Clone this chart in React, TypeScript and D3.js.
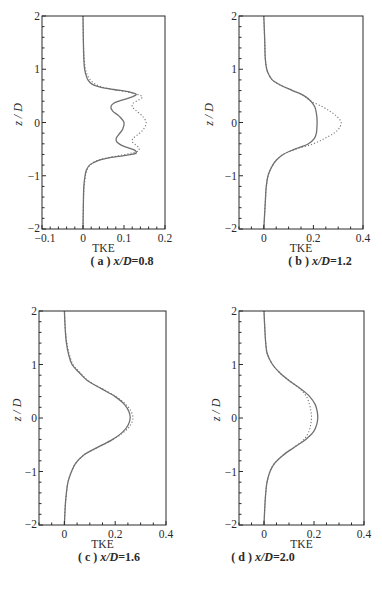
import * as d3 from 'd3';

// z/D sample positions (top to bottom)
const zA = [2, 1.5, 1.2, 1.0, 0.9, 0.8, 0.72, 0.67, 0.62, 0.57, 0.53, 0.48, 0.42, 0.36, 0.3, 0.22, 0.12, 0, -0.12, -0.22, -0.3, -0.36, -0.42, -0.48, -0.53, -0.57, -0.62, -0.67, -0.72, -0.8, -0.9, -1.0, -1.2, -1.5, -2];
const solidA = [0, 0.001, 0.002, 0.004, 0.007, 0.012, 0.022, 0.04, 0.075, 0.115, 0.13, 0.12, 0.095, 0.075, 0.068, 0.072, 0.088, 0.1, 0.097, 0.088, 0.081, 0.082, 0.092, 0.112, 0.128, 0.13, 0.1, 0.06, 0.035, 0.016, 0.008, 0.005, 0.002, 0.001, 0];
const dottedA = [0, 0.001, 0.003, 0.006, 0.01, 0.018, 0.03, 0.045, 0.075, 0.11, 0.132, 0.145, 0.135, 0.122, 0.12, 0.13, 0.145, 0.154, 0.148, 0.135, 0.122, 0.12, 0.128, 0.137, 0.135, 0.12, 0.09, 0.055, 0.033, 0.017, 0.009, 0.006, 0.003, 0.001, 0];

const zB = [2, 1.5, 1.2, 1.0, 0.9, 0.8, 0.7, 0.6, 0.5, 0.4, 0.3, 0.2, 0.1, 0, -0.1, -0.2, -0.3, -0.4, -0.5, -0.6, -0.7, -0.8, -0.9, -1.0, -1.2, -1.5, -2];
const solidB = [0, 0.004, 0.006, 0.012, 0.02, 0.034, 0.068, 0.116, 0.163, 0.19, 0.205, 0.211, 0.214, 0.215, 0.214, 0.212, 0.204, 0.18, 0.125, 0.078, 0.052, 0.036, 0.025, 0.017, 0.01, 0.006, 0];
const dottedB = [0, 0.004, 0.006, 0.012, 0.02, 0.034, 0.068, 0.116, 0.163, 0.19, 0.235, 0.27, 0.298, 0.312, 0.305, 0.283, 0.245, 0.2, 0.13, 0.078, 0.052, 0.036, 0.025, 0.017, 0.01, 0.006, 0];

const zC = [2, 1.6, 1.4, 1.2, 1.0, 0.85, 0.7, 0.55, 0.4, 0.25, 0.12, 0, -0.12, -0.25, -0.4, -0.55, -0.7, -0.85, -1.0, -1.2, -1.4, -1.6, -2];
const solidC = [0, 0.004, 0.008, 0.016, 0.03, 0.058, 0.09, 0.145, 0.2, 0.237, 0.254, 0.259, 0.252, 0.232, 0.19, 0.13, 0.074, 0.044, 0.028, 0.014, 0.008, 0.004, 0];
const dottedC = [0, 0.005, 0.01, 0.019, 0.034, 0.062, 0.093, 0.147, 0.203, 0.243, 0.263, 0.27, 0.262, 0.238, 0.192, 0.13, 0.074, 0.044, 0.028, 0.014, 0.008, 0.004, 0];

const zD = zC;
const solidD = [0, 0.004, 0.007, 0.013, 0.034, 0.062, 0.1, 0.145, 0.183, 0.205, 0.213, 0.215, 0.211, 0.199, 0.167, 0.12, 0.075, 0.042, 0.024, 0.012, 0.007, 0.004, 0];
const dottedD = [0, 0.004, 0.007, 0.013, 0.034, 0.062, 0.1, 0.143, 0.17, 0.182, 0.188, 0.19, 0.187, 0.18, 0.16, 0.12, 0.075, 0.042, 0.024, 0.012, 0.007, 0.004, 0];

const yTicks = [-2, -1, 0, 1, 2];
const xTicksA = [-0.1, 0, 0.1, 0.2];
const xTicksWide = [0, 0.2, 0.4];

const serif = '"Liberation Serif", "DejaVu Serif", serif';
const ink = '#2a2a2a';

type PanelProps = {
  left: number;
  top: number;
  width: number;
  height: number;
  xDomain: [number, number];
  xTicks: number[];
  xMinorStep: number;
  z: number[];
  solid: number[];
  dotted: number[];
  letter: string;
  value: string;
  captionX: number;
  labelDx: number;
};

const fmtTick = (v: number) => (v < 0 ? '\u2212' : '') + String(Math.abs(v));

const Panel = (p: PanelProps) => {
  const x = d3.scaleLinear().domain(p.xDomain).range([p.left, p.left + p.width]);
  const y = d3.scaleLinear().domain([-2, 2]).range([p.top + p.height, p.top]);
  const bottom = p.top + p.height;

  const line = d3
    .line<number>()
    .x((d) => x(d))
    .y((_, i) => y(p.z[i]))
    .curve(d3.curveCatmullRom.alpha(0.5));

  const yMinor = d3.range(-2, 2.0001, 0.2).filter((v) => Math.abs(v - Math.round(v)) > 1e-6);
  const n = Math.round((p.xDomain[1] - p.xDomain[0]) / p.xMinorStep);
  const xMinor = d3
    .range(0, n + 1)
    .map((i) => p.xDomain[0] + i * p.xMinorStep)
    .filter((v) => !p.xTicks.some((t) => Math.abs(t - v) < 1e-6));

  return (
    <g>
      <path d={line(p.dotted) ?? ''} fill="none" stroke="#777" strokeWidth={1.1} strokeDasharray="1.2,2" />
      <path d={line(p.solid) ?? ''} fill="none" stroke="#707070" strokeWidth={1.3} />
      <rect x={p.left} y={p.top} width={p.width} height={p.height} fill="none" stroke={ink} strokeWidth={1} />

      {yMinor.map((v) => (
        <line key={'ym' + v} x1={p.left} x2={p.left + 2.5} y1={y(v)} y2={y(v)} stroke={ink} strokeWidth={1} />
      ))}
      {yTicks.map((v) => (
        <g key={'y' + v}>
          <line x1={p.left} x2={p.left + 4} y1={y(v)} y2={y(v)} stroke={ink} strokeWidth={1} />
          <text x={p.left - 2} y={y(v) + (v === -2 ? 2.5 : 4)} textAnchor="end" fontSize={11.5} fontFamily={serif} fill={ink}>
            {fmtTick(v)}
          </text>
        </g>
      ))}

      {xMinor.map((v) => (
        <line key={'xm' + v} x1={x(v)} x2={x(v)} y1={bottom} y2={bottom - 2.5} stroke={ink} strokeWidth={1} />
      ))}
      {p.xTicks.map((v) => (
        <g key={'x' + v}>
          <line x1={x(v)} x2={x(v)} y1={bottom} y2={bottom - 4} stroke={ink} strokeWidth={1} />
          <text x={x(v) + (v < 0 ? 3 : 0)} y={bottom + 12.5} textAnchor="middle" fontSize={11.5} fontFamily={serif} fill={ink}>
            {fmtTick(v)}
          </text>
        </g>
      ))}

      <text x={p.left + p.width / 2} y={bottom + 22.5} textAnchor="middle" fontSize={11.5} fontFamily={serif} fill={ink}>
        TKE
      </text>
      <text
        transform={`translate(${p.left - p.labelDx},${y(0.15)}) rotate(-90)`}
        textAnchor="middle"
        fontSize={12}
        fontFamily={serif}
        fontStyle="italic"
        fill={ink}
      >
        z / D
      </text>
      <text x={p.captionX} y={bottom + 36} textAnchor="middle" fontSize={12} fontFamily={serif} fill={ink} fontWeight="bold">
        <tspan>{'( ' + p.letter + ' )  '}</tspan>
        <tspan fontStyle="italic">x/D</tspan>
        <tspan>{'=' + p.value}</tspan>
      </text>
    </g>
  );
};

export default function App() {
  return (
    <svg width={382} height={593} style={{ position: 'absolute', left: 0, top: 0, background: '#fff' }}>
      <rect width={382} height={593} fill="#fff" />
      <Panel left={42} top={16} width={123} height={213} xDomain={[-0.1, 0.2]} xTicks={xTicksA} xMinorStep={0.02}
        z={zA} solid={solidA} dotted={dottedA} letter="a" value="0.8" captionX={122} labelDx={20} />
      <Panel left={239} top={16} width={124} height={213} xDomain={[-0.1, 0.4]} xTicks={xTicksWide} xMinorStep={0.05}
        z={zB} solid={solidB} dotted={dottedB} letter="b" value="1.2" captionX={320} labelDx={26} />
      <Panel left={39} top={311} width={127} height={214} xDomain={[-0.1, 0.4]} xTicks={xTicksWide} xMinorStep={0.05}
        z={zC} solid={solidC} dotted={dottedC} letter="c" value="1.6" captionX={109} labelDx={18} />
      <Panel left={239} top={311} width={125} height={214} xDomain={[-0.1, 0.4]} xTicks={xTicksWide} xMinorStep={0.05}
        z={zD} solid={solidD} dotted={dottedD} letter="d" value="2.0" captionX={263} labelDx={19} />
    </svg>
  );
}
